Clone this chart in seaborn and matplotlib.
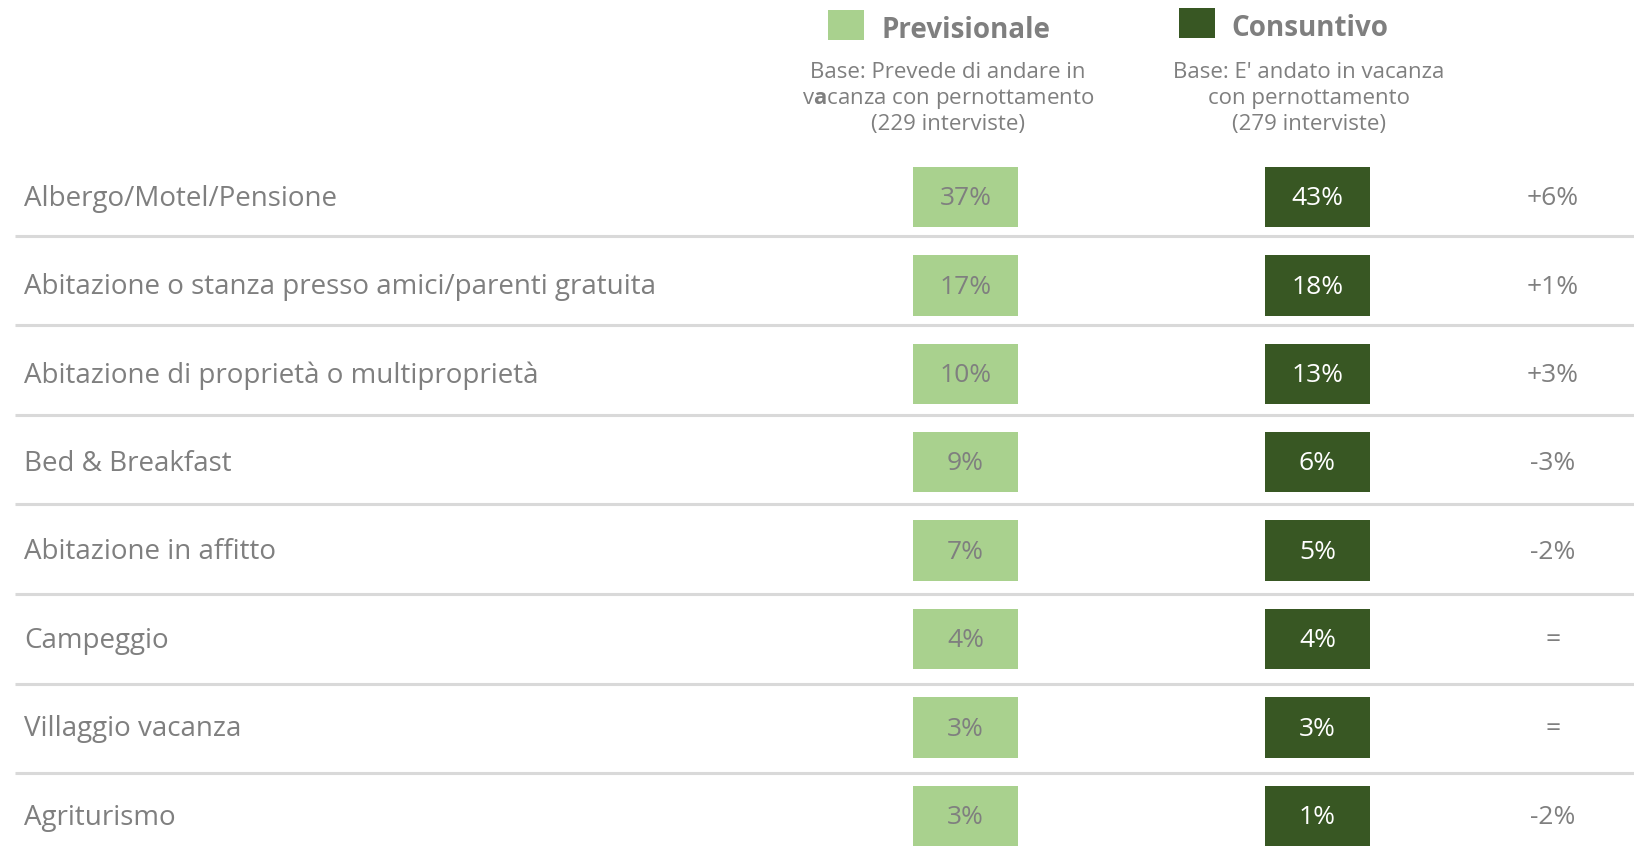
import numpy as np
import pandas as pd
import matplotlib
matplotlib.use("Agg")
import matplotlib.pyplot as plt
from matplotlib.patches import Rectangle
import seaborn as sns

categorie = ["Albergo/Motel/Pensione",
             "Abitazione o stanza presso amici/parenti gratuita",
             "Abitazione di proprietà o multiproprietà",
             "Bed & Breakfast",
             "Abitazione in affitto",
             "Campeggio",
             "Villaggio vacanza",
             "Agriturismo"]
previsionale = [37, 17, 10, 9, 7, 4, 3, 3]
consuntivo = [43, 18, 13, 6, 5, 4, 3, 1]
serie = ["Previsionale", "Consuntivo"]
basi = [["Base: Prevede di andare in", "v$\\mathbf{a}$canza con pernottamento",
         "(229 interviste)"],
        ["Base: E' andato in vacanza", "con pernottamento", "(279 interviste)"]]

verde_chiaro = "#A9D18E"
verde_scuro = "#385723"
grigio = "#7F7F7F"
linea = "#D9D9D9"

sns.set_theme(style="white")
plt.rcParams["font.family"] = ["Open Sans", "DejaVu Sans"]
plt.rcParams["mathtext.fontset"] = "custom"
plt.rcParams["mathtext.rm"] = "Open Sans"
plt.rcParams["mathtext.bf"] = "Open Sans:weight=bold"

W, H = 1634, 858
passo = 88.4      # altezza riga in pixel
y0 = 197          # centro prima riga in pixel
passo_linee = 89.6
box_w, box_h = 105, 60.5 / passo
x_prev, x_cons, x_diff = 913, 1265, 1553
dy = 0.02         # piccolo abbassamento del testo


def riga(py):
    # pixel verticale -> unità riga
    return (py - y0) / passo


fig = plt.figure(figsize=(W / 100, H / 100), dpi=100)
ax = fig.add_axes([0, 0, 1, 1])

n = len(categorie)
df = pd.DataFrame({"categoria": categorie, "prev": previsionale, "cons": consuntivo})

# celle colorate
sns.barplot(data=df, y="categoria", x=[box_w] * n, left=x_prev, width=box_h,
            color=verde_chiaro, saturation=1, errorbar=None, orient="h",
            linewidth=0, ax=ax)
sns.barplot(data=df, y="categoria", x=[box_w] * n, left=x_cons, width=box_h,
            color=verde_scuro, saturation=1, errorbar=None, orient="h",
            linewidth=0, ax=ax)

for i, row in df.iterrows():
    ax.text(24, i + dy, row["categoria"], fontsize=20,
            color=grigio, va="center", ha="left")
    ax.text(x_prev + box_w / 2, i + dy, f"{row['prev']}%", fontsize=19,
            color=grigio, va="center", ha="center")
    ax.text(x_cons + box_w / 2, i + dy, f"{row['cons']}%", fontsize=19,
            color="white", va="center", ha="center")
    d = row["cons"] - row["prev"]
    diff = "=" if d == 0 else f"{d:+d}%"
    ax.text(x_diff, i + dy, diff, fontsize=19,
            color=grigio, va="center", ha="center")
    if i < n - 1:
        yl = riga(235.5 + passo_linee * i)
        ax.plot([15, W], [yl, yl], color=linea, lw=2.2, solid_capstyle="butt")

# legenda e basi
for j, (nome, col, sx, sy, tx, cx) in enumerate(zip(
        serie, [verde_chiaro, verde_scuro], [828, 1179], [10, 8], [882, 1231],
        [948, 1309])):
    ax.add_patch(Rectangle((sx, riga(sy)), 36, 30 / passo, color=col, lw=0))
    ax.text(tx, riga(sy + 21), nome, fontsize=20, fontweight="bold",
            color=grigio, va="center", ha="left")
    for k, testo in enumerate(basi[j]):
        ax.text(cx, riga(78 + 26 * k), testo, fontsize=16,
                color=grigio, va="baseline", ha="center")

ax.set_xlim(0, W)
ax.set_ylim(riga(H), riga(0))
ax.axis("off")

fig.savefig("out.png", dpi=100)
